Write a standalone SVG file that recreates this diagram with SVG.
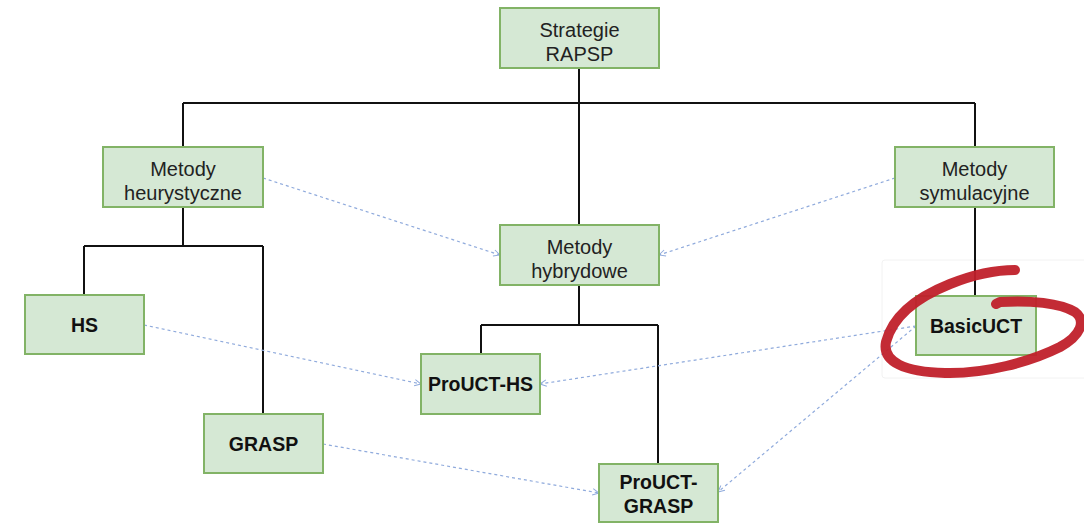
<svg xmlns="http://www.w3.org/2000/svg" width="1084" height="527" viewBox="0 0 1084 527">
<defs>
<style>
.box{fill:#d5e8d4;stroke:#82b366;stroke-width:2}
.t{font-family:"Liberation Sans",Arial,sans-serif;font-size:20px;fill:#222;text-anchor:middle}
.b{font-family:"Liberation Sans",Arial,sans-serif;font-size:19.5px;font-weight:bold;fill:#111;text-anchor:middle}
.tree{fill:none;stroke:#111;stroke-width:2}
.dash{fill:none;stroke:#8faadc;stroke-width:1.2;stroke-dasharray:3 3;marker-end:url(#ah)}
</style>
<marker id="ah" viewBox="0 0 10 10" refX="9" refY="5" markerWidth="8" markerHeight="8" orient="auto" markerUnits="userSpaceOnUse">
<path d="M1,1 L9,5 L1,9" fill="none" stroke="#8faadc" stroke-width="1.2"/>
</marker>
</defs>
<rect width="1084" height="527" fill="#fff"/>
<rect x="882" y="260" width="210" height="118" rx="3" fill="#fff" stroke="#f2f2f2" stroke-width="1"/>
<g id="connectors">
<path class="tree" d="M579,68 V103 M183,103 H975 M183,103 V147 M579,103 V225 M975,103 V147"/>
<path class="tree" d="M183,207 V246 M84,246 H263 M84,246 V295 M263,246 V414"/>
<path class="tree" d="M975,207 V296"/>
<path class="tree" d="M579,285 V325 M481,325 H658 M481,325 V354 M658,325 V464"/>
<path class="dash" d="M263,178 L500,255"/>
<path class="dash" d="M895,178 L659,255"/>
<path class="dash" d="M144,325 L421,384"/>
<path class="dash" d="M916,326 L540,384"/>
<path class="dash" d="M916,326 L718,492"/>
<path class="dash" d="M323,444 L599,493"/>
</g>
<g id="n-root"><rect class="box" x="500" y="8" width="159" height="60"/><text class="t" x="579.5" y="37">Strategie</text><text class="t" x="579.5" y="61">RAPSP</text></g>
<g id="n-heur"><rect class="box" x="103" y="147" width="160" height="60"/><text class="t" x="183" y="176">Metody</text><text class="t" x="183" y="200">heurystyczne</text></g>
<g id="n-sym"><rect class="box" x="895" y="147" width="159" height="60"/><text class="t" x="974.5" y="176">Metody</text><text class="t" x="974.5" y="200">symulacyjne</text></g>
<g id="n-hyb"><rect class="box" x="500" y="225" width="159" height="60"/><text class="t" x="579.5" y="254">Metody</text><text class="t" x="579.5" y="278">hybrydowe</text></g>
<g id="n-hs"><rect class="box" x="25" y="295" width="119" height="59"/><text class="b" x="84.5" y="332">HS</text></g>
<g id="n-grasp"><rect class="box" x="204" y="414" width="119" height="59"/><text class="b" x="263.5" y="451">GRASP</text></g>
<g id="n-prohs"><rect class="box" x="421" y="354" width="119" height="60"/><text class="b" x="480.5" y="391">ProUCT-HS</text></g>
<g id="n-prograsp"><rect class="box" x="599" y="464" width="119" height="58"/><text class="b" x="658.5" y="489">ProUCT-</text><text class="b" x="658.5" y="513">GRASP</text></g>
<g id="n-basic"><rect class="box" x="916" y="296" width="120" height="59"/><text class="b" x="976" y="333">BasicUCT</text></g>
<path d="M1015,270 C995,270 975,274 950,284 C920,296 893,315 886,342 C882,362 905,372 945,373 C985,374 1030,362 1060,347 C1082,335 1086,320 1075,312 C1060,303 1030,300 1000,302 L996,304" fill="none" stroke="#c0202a" stroke-width="10" stroke-linecap="round" stroke-linejoin="round" opacity="0.95"/>
</svg>
